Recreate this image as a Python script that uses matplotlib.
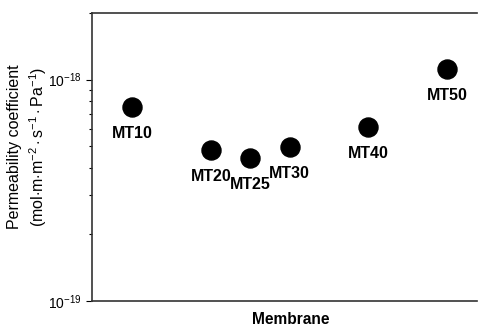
import matplotlib
matplotlib.use("Agg")
import matplotlib.pyplot as plt

plt.rcParams['font.family'] = ['Liberation Sans', 'DejaVu Sans']
plt.rcParams['mathtext.fontset'] = 'custom'
plt.rcParams['mathtext.rm'] = 'Liberation Sans'
plt.rcParams['mathtext.it'] = 'Liberation Sans:italic'
plt.rcParams['mathtext.bf'] = 'Liberation Sans:bold'

membranes = ['MT10', 'MT20', 'MT25', 'MT30', 'MT40', 'MT50']
mt_number = [10, 20, 25, 30, 40, 50]
permeability = [7.55e-19, 4.82e-19, 4.44e-19, 4.94e-19, 6.10e-19, 1.12e-18]

fig = plt.figure(figsize=(4.78, 3.27), dpi=100)
ax = fig.add_axes([92 / 478, 26 / 327, 385 / 478, 288 / 327])

ax.plot(mt_number, permeability, 'o', color='black', markersize=13.7, linestyle='none')
for name, x, y in zip(membranes, mt_number, permeability):
    ax.annotate(name, (x, y), xytext=(0, -19), textcoords='offset points',
                ha='center', va='center', fontsize=11.5, fontweight='bold')

ax.set_yscale('log')
ax.set_ylim(1e-19, 2.0e-18)
ax.set_xlim(4.9, 53.8)
ax.set_xticks([])
ax.set_yticks([1e-19, 1e-18])
ax.set_yticklabels([r'$10^{-19}$', r'$10^{-18}$'], fontsize=10)

# frame: open on the right, top drawn as a plain line
ax.spines['right'].set_visible(False)
ax.spines['top'].set_visible(False)
for s in ['bottom', 'left']:
    ax.spines[s].set_linewidth(1.2)
    ax.spines[s].set_color('#333333')
ax.plot([0, 1], [1, 1], transform=ax.transAxes, color='#333333',
        linewidth=1.2, clip_on=False, solid_capstyle='projecting')
ax.tick_params(axis='y', which='major', length=4.5, width=0.8, direction='out', pad=3)
ax.tick_params(axis='y', which='minor', length=2.3, width=0.8, direction='out')

fig.text(28 / 478, 1 - 147 / 327,
         'Permeability coefficient\n' + r'(mol$\cdot$m$\cdot$m$^{-2}\cdot$s$^{-1}\cdot$Pa$^{-1}$)',
         rotation=90, ha='center', va='center', multialignment='center',
         fontsize=11.5, linespacing=1.35)
fig.text(291 / 478, 1 - 320 / 327, 'Membrane', ha='center', va='center',
         fontsize=11.2, fontweight='bold')

fig.savefig('out.png', dpi=100)
